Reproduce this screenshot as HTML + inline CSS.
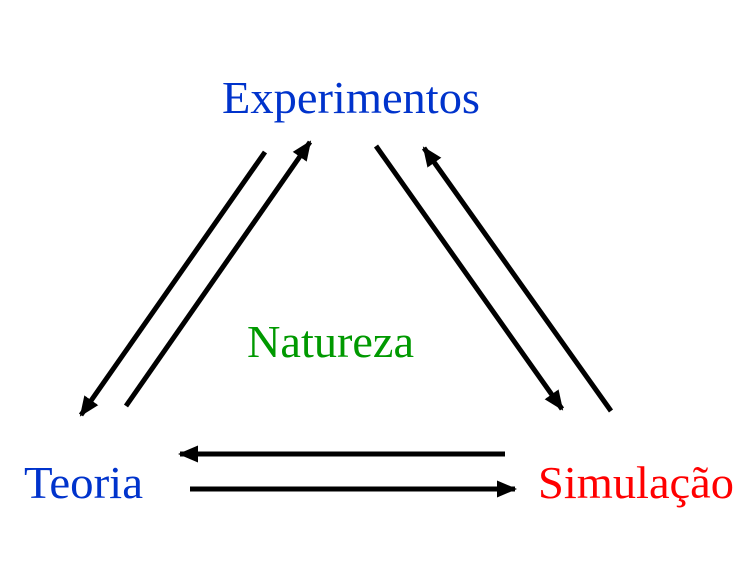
<!DOCTYPE html>
<html><head><style>html,body{margin:0;padding:0;background:#fff;}svg{display:block}</style></head>
<body>
<svg width="756" height="583" viewBox="0 0 756 583" xmlns="http://www.w3.org/2000/svg">
<defs>
<marker id="a" markerWidth="4" markerHeight="4" refX="3.6" refY="2" orient="auto" markerUnits="strokeWidth">
<path d="M0,0.3 L4,2 L0,3.7 Z" fill="#000"/>
</marker>
</defs>
<g font-family="Liberation Serif, serif" font-size="46">
<text x="222" y="113" fill="#0033cc" textLength="258" lengthAdjust="spacingAndGlyphs">Experimentos</text>
<text x="247" y="357" fill="#009900" textLength="167" lengthAdjust="spacingAndGlyphs">Natureza</text>
<text x="24" y="498" fill="#0033cc" textLength="119" lengthAdjust="spacingAndGlyphs">Teoria</text>
<text x="538" y="498" fill="#ff0000" textLength="196" lengthAdjust="spacingAndGlyphs">Simulação</text>
</g>
<g stroke="#000" stroke-width="5" fill="none" marker-end="url(#a)">
<line x1="265" y1="152" x2="81" y2="415"/>
<line x1="126" y1="406" x2="310" y2="142"/>
<line x1="376" y1="146" x2="562" y2="409"/>
<line x1="611" y1="411" x2="424" y2="148"/>
<line x1="505" y1="454" x2="180" y2="454"/>
<line x1="190" y1="489" x2="515" y2="489"/>
</g>
</svg>
</body></html>
